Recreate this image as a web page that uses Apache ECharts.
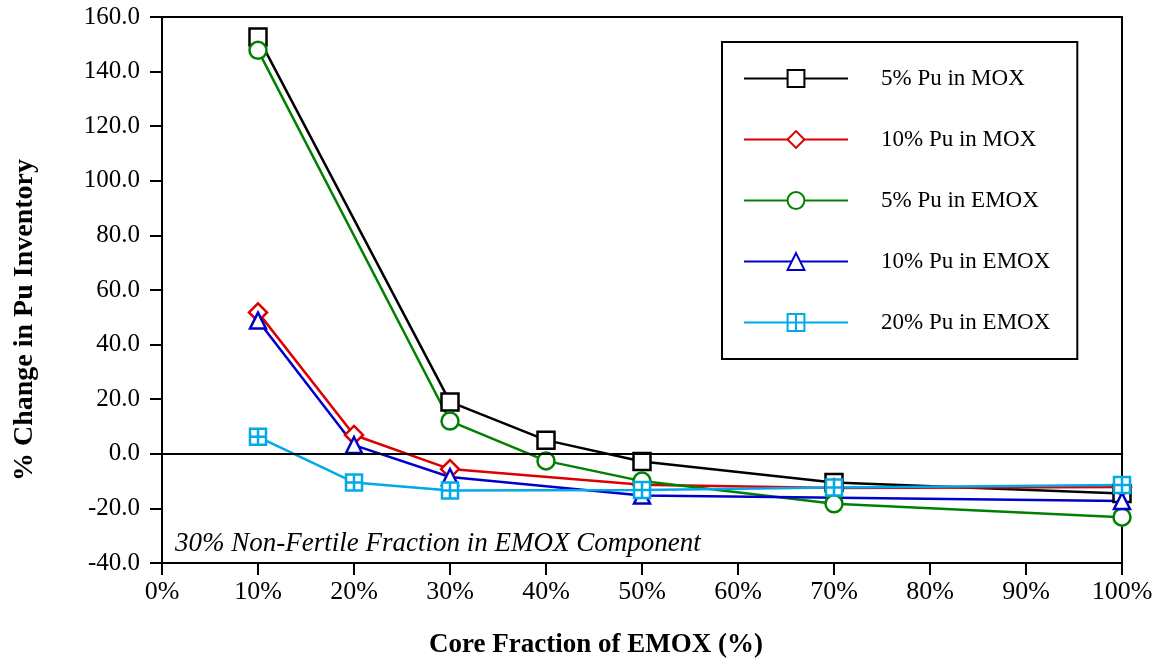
<html lang="en">
<head>
    <meta charset="UTF-8">
    <title>% Change in Pu Inventory</title>
    <script src="https://cdn.jsdelivr.net/npm/echarts@6.0.0/dist/echarts.min.js"></script>
</head>
<body style="margin:0">
    <div id="main" style="width: 1160px;height:662px;"></div>
    <script type="text/javascript">
        // values
        var seriesNames = ['5% Pu in MOX', '10% Pu in MOX', '5% Pu in EMOX', '10% Pu in EMOX', '20% Pu in EMOX'];

        var mox5X = [10, 30, 40, 50, 70, 100];
        var mox5Y = [152.7, 19.0, 5.0, -2.8, -10.5, -14.5];

        var mox10X = [10, 20, 30, 50, 70, 100];
        var mox10Y = [51.8, 6.9, -5.6, -11.3, -12.5, -12.2];

        var emox5X = [10, 30, 40, 50, 70, 100];
        var emox5Y = [147.8, 12.0, -2.6, -10.0, -18.3, -23.2];

        var emox10X = [10, 20, 30, 50, 100];
        var emox10Y = [48.8, 3.2, -8.5, -15.3, -17.3];

        var emox20X = [10, 20, 30, 50, 70, 100];
        var emox20Y = [6.2, -10.5, -13.4, -13.3, -12.3, -11.4];

        var fontFamily = '"Liberation Serif", "Times New Roman", serif';

        function pairs(xs, ys) {
            return xs.map(function (x, i) { return [x, ys[i]]; });
        }

        function makeSeries(name, xs, ys, color, symbol, size) {
            return {
                name: name,
                type: 'line',
                data: pairs(xs, ys),
                symbol: symbol,
                symbolSize: size,
                showAllSymbol: true,
                lineStyle: { color: color, width: 2.5 },
                itemStyle: { color: '#fff', borderColor: color, borderWidth: 2.5 },
                emphasis: { disabled: true },
                z: 3
            };
        }

        var myChart = echarts.init(document.getElementById('main'));

        var series = [
            makeSeries(seriesNames[0], mox5X, mox5Y, '#000000', 'rect', 17),
            makeSeries(seriesNames[1], mox10X, mox10Y, '#dd0000', 'diamond', 18),
            makeSeries(seriesNames[2], emox5X, emox5Y, '#008000', 'circle', 17),
            makeSeries(seriesNames[3], emox10X, emox10Y, '#0000cc', 'triangle', 16),
            makeSeries(seriesNames[4], emox20X, emox20Y, '#00aae8',
                'path://M0,0H10V10H0Z M5,0V10 M0,5H10', 16)
        ];

        // zero line
        series[0].markLine = {
            silent: true,
            symbol: 'none',
            label: { show: false },
            lineStyle: { color: '#000', width: 2, type: 'solid' },
            data: [{ yAxis: 0 }]
        };

        var option = {
            animation: false,
            backgroundColor: '#fff',
            textStyle: { fontFamily: fontFamily },
            grid: {
                left: 162, right: 38, top: 17, bottom: 99,
                show: true, borderColor: '#000', borderWidth: 2
            },
            legend: {
                orient: 'vertical',
                left: 722,
                top: 42,
                data: seriesNames,
                itemWidth: 104,
                itemHeight: 21,
                itemGap: 38,
                padding: [25, 27, 25, 21],
                borderColor: '#000',
                borderWidth: 2,
                backgroundColor: '#fff',
                selectedMode: false,
                textStyle: { fontFamily: fontFamily, fontSize: 23, color: '#000', padding: [0, 0, 0, 28] }
            },
            xAxis: {
                type: 'value',
                min: 0,
                max: 100,
                interval: 10,
                axisLine: { show: true, onZero: false, lineStyle: { color: '#000', width: 2 } },
                axisTick: { show: true, length: 12, lineStyle: { color: '#000', width: 2 } },
                axisLabel: { margin: 16, fontSize: 26, color: '#000', formatter: '{value}%' },
                splitLine: { show: false }
            },
            yAxis: {
                type: 'value',
                min: -40,
                max: 160,
                interval: 20,
                axisLine: { show: true, lineStyle: { color: '#000', width: 2 } },
                axisTick: { show: true, length: 12, lineStyle: { color: '#000', width: 2 } },
                axisLabel: {
                    margin: 22, fontSize: 25, color: '#000',
                    formatter: function (v) { return v.toFixed(1); }
                },
                splitLine: { show: false }
            },
            graphic: [{
                type: 'text',
                left: 175,
                top: 530,
                style: {
                    text: '30% Non-Fertile Fraction in EMOX Component',
                    font: 'italic 27px ' + fontFamily,
                    fill: '#000'
                }
            }, {
                type: 'text',
                x: 25,
                y: 320,
                rotation: Math.PI / 2,
                style: {
                    text: '% Change in Pu Inventory',
                    font: 'bold 28px ' + fontFamily,
                    fill: '#000',
                    align: 'center',
                    verticalAlign: 'middle'
                }
            }, {
                type: 'text',
                x: 596,
                y: 645,
                style: {
                    text: 'Core Fraction of EMOX (%)',
                    font: 'bold 27px ' + fontFamily,
                    fill: '#000',
                    align: 'center',
                    verticalAlign: 'middle'
                }
            }],
            series: series
        };

        myChart.setOption(option);
    </script>
</body>
</html>
